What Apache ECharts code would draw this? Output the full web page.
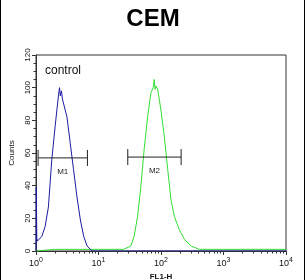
<!DOCTYPE html>
<html><head><meta charset="utf-8">
<script src="https://cdn.jsdelivr.net/npm/echarts@6/dist/echarts.min.js"></script>
<style>html,body{margin:0;padding:0;background:#fff}#c{width:306px;height:280px}</style>
</head><body><div id="c"></div>
<script>
// Blue (control) histogram: FL1-H intensity vs counts
const blueX = [1.0, 1.01, 1.03, 1.05, 1.24, 1.40, 1.58, 1.79, 2.02, 2.21, 2.30, 2.38, 2.45, 2.55, 2.65, 2.75, 3.13, 3.53, 3.98, 4.53, 5.13, 5.79, 6.58, 7.91, 10, 100, 1000, 10000];
const blueY = [0, 39, 8, 6, 9, 15, 27, 56, 76, 90, 96, 100, 95, 98, 93, 94, 82, 66, 50, 33, 19, 9, 3, 0, 0, 0, 0, 0];
// Green (sample) histogram
const greenX = [1, 2, 5, 10, 25.1, 32.8, 37.2, 42.1, 47.5, 53.7, 61.0, 69.0, 75.0, 78.0, 80.5, 83.0, 88.5, 100, 113, 128, 145, 164, 197, 238, 305, 410, 1000, 10000];
const greenY = [0, 1, 1, 1, 1, 3, 9, 21, 39, 62, 82, 97, 100, 105, 99, 101, 99, 86, 70, 50, 31, 21, 13, 7, 3, 1, 1, 1];
// Gates
const gateNames = ['M1', 'M2'];
const gateStart = [1.08, 29.4];
const gateEnd = [6.65, 210];
const gateLevel = [57, 57.5];
// Axis ticks
const yTicks = [0, 20, 40, 60, 80, 100, 120];
const xMajor = [1, 10, 100, 1000, 10000];
const xMinor = [2,3,4,5,6,7,8,9,20,30,40,50,60,70,80,90,200,300,400,500,600,700,800,900,2000,3000,4000,5000,6000,7000,8000,9000];

const pairs = (xs, ys) => xs.map((x, i) => [x, ys[i]]);
const gateData = gateNames.map((n, i) => [gateStart[i], gateEnd[i], gateLevel[i], n]);

const chart = echarts.init(document.getElementById('c'), null, {renderer: 'canvas'});
const axisColor = '#333';
const font = 'Liberation Sans, Arial, sans-serif';
chart.setOption({
  animation: false,
  backgroundColor: '#fff',
  title: {
    text: 'CEM', left: 'center', top: 2,
    textStyle: {fontFamily: font, fontWeight: 'bold', fontSize: 24, color: '#000'}
  },
  grid: {left: 36, right: 20, top: 55, bottom: 29, show: true, borderColor: axisColor, borderWidth: 1,
    backgroundColor: 'transparent', containLabel: false, outerBoundsMode: 'none'},
  xAxis: [{
    type: 'log', logBase: 10, min: 1, max: 10000,
    name: 'FL1-H', nameLocation: 'middle', nameGap: 20,
    nameTextStyle: {fontFamily: font, fontSize: 8, color: '#111', fontWeight: 'bold'},
    axisLine: {show: true, lineStyle: {color: axisColor, width: 1}},
    axisTick: {show: true, inside: false, length: 4, customValues: xMajor, lineStyle: {color: axisColor}},
    axisLabel: {
      show: true, margin: 6, customValues: xMajor,
      formatter: v => '10{sup|' + Math.round(Math.log10(v)) + '}',
      fontFamily: font, fontSize: 9, color: '#111',
      rich: {sup: {fontSize: 7, verticalAlign: 'top', padding: [0, 0, 6, 0], fontFamily: font, color: '#111'}}
    },
    splitLine: {show: false}, minorTick: {show: false}
  }, {
    type: 'log', logBase: 10, min: 1, max: 10000, position: 'bottom',
    axisLine: {show: false},
    axisTick: {show: true, inside: false, length: 2.5, customValues: xMinor, lineStyle: {color: axisColor}},
    axisLabel: {show: false}, splitLine: {show: false}
  }],
  yAxis: {
    type: 'value', min: 0, max: 120, interval: 20,
    name: 'Counts', nameLocation: 'middle', nameGap: 16, nameRotate: 90,
    nameTextStyle: {fontFamily: font, fontSize: 8, color: '#111'},
    axisLine: {show: true, lineStyle: {color: axisColor, width: 1}},
    axisTick: {show: true, inside: false, length: 4, lineStyle: {color: axisColor}},
    minorTick: {show: true, splitNumber: 4, length: 2.5, lineStyle: {color: axisColor}},
    axisLabel: {rotate: 90, margin: 4, fontFamily: font, fontSize: 8, color: '#111',
      customValues: yTicks},
    splitLine: {show: false}, minorSplitLine: {show: false}
  },
  graphic: [
    {type: 'text', left: 45, top: 65, style: {text: 'control', fontFamily: font, fontSize: 12, fill: '#111'}},
    {type: 'line', shape: {x1: 0.5, y1: 0, x2: 0.5, y2: 280}, style: {stroke: '#000', lineWidth: 1}},
    {type: 'line', shape: {x1: 304.5, y1: 0, x2: 304.5, y2: 280}, style: {stroke: '#000', lineWidth: 1}}
  ],
  series: [{
    type: 'line', name: 'control', data: pairs(blueX, blueY), showSymbol: false, symbol: 'none',
    lineStyle: {color: '#1c1ca0', width: 1}, z: 3
  }, {
    type: 'line', name: 'sample', data: pairs(greenX, greenY), showSymbol: false, symbol: 'none',
    lineStyle: {color: '#33dd33', width: 1}, z: 2
  }, {
    type: 'custom', name: 'gates', data: gateData, z: 4,
    renderItem: (params, api) => {
      const x1 = api.value(0), x2 = api.value(1), y = api.value(2);
      const p1 = api.coord([x1, y]), p2 = api.coord([x2, y]);
      const h = 8;
      const st = {stroke: '#222', lineWidth: 1};
      return {type: 'group', children: [
        {type: 'line', shape: {x1: p1[0], y1: p1[1], x2: p2[0], y2: p2[1]}, style: st},
        {type: 'line', shape: {x1: p1[0], y1: p1[1] - h, x2: p1[0], y2: p1[1] + h}, style: st},
        {type: 'line', shape: {x1: p2[0], y1: p2[1] - h, x2: p2[0], y2: p2[1] + h}, style: st},
        {type: 'text', x: (p1[0] + p2[0]) / 2, y: p1[1] + 14,
          style: {text: gateNames[params.dataIndex], fontFamily: font, fontSize: 8, fill: '#222', align: 'center', verticalAlign: 'middle'}}
      ]};
    }
  }]
});
</script></body></html>
